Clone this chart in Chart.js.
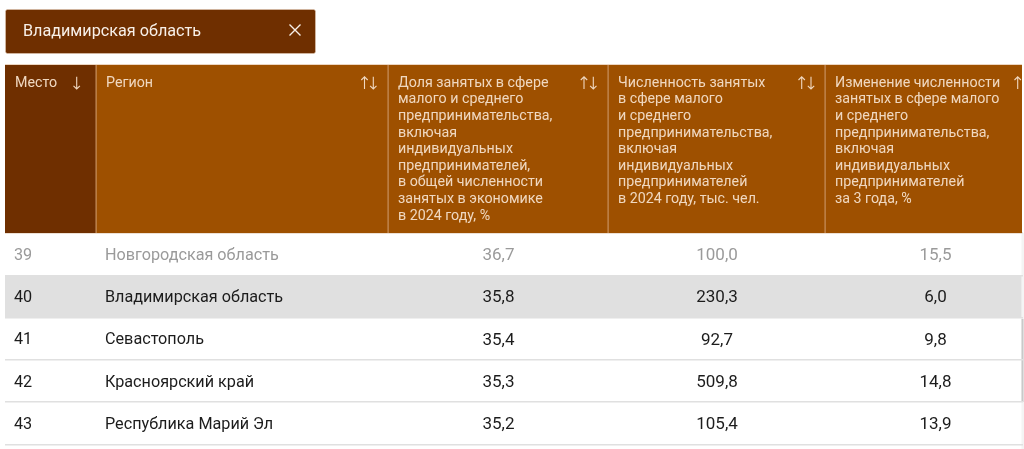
<!DOCTYPE html>
<html lang="ru">
<head>
<meta charset="utf-8">
<title>Доля занятых в сфере МСП</title>
<script src="https://cdn.jsdelivr.net/npm/chart.js@4/dist/chart.umd.js"></script>
<style>
    html, body { margin: 0; padding: 0; background: #fff; overflow: hidden; }
    canvas { display: block; }
</style>
</head>
<body>
<canvas id="myChart" width="1024" height="449"></canvas>
<script>
// Данные таблицы
const selectedRegion = 'Владимирская область';
const places = ['39', '40', '41', '42', '43'];
const regions = ['Новгородская область', 'Владимирская область', 'Севастополь', 'Красноярский край', 'Республика Марий Эл'];
const shareValues = [36.7, 35.8, 35.4, 35.3, 35.2];
const employedValues = [100.0, 230.3, 92.7, 509.8, 105.4];
const changeValues = [15.5, 6.0, 9.8, 14.8, 13.9];

const headPlace = ['Место'];
const headRegion = ['Регион'];
const headShare = ['Доля занятых в сфере', 'малого и среднего', 'предпринимательства,', 'включая', 'индивидуальных', 'предпринимателей,', 'в общей численности', 'занятых в экономике', 'в 2024 году, %'];
const headEmployed = ['Численность занятых', 'в сфере малого', 'и среднего', 'предпринимательства,', 'включая', 'индивидуальных', 'предпринимателей', 'в 2024 году, тыс. чел.'];
const headChange = ['Изменение численности', 'занятых в сфере малого', 'и среднего', 'предпринимательства,', 'включая', 'индивидуальных', 'предпринимателей', 'за 3 года, %'];

// Разметка
const edges = [5, 96, 388, 608, 825, 1045];
const upArrows = [null, 364.5, 584, 801.7, 1017.7];
const downArrows = [76.7, 373.3, 593.3, 811, 1027];
const tableRight = 1021.5;
const headRight = 1022;
const headTop = 65, headBottom = 233;
const dark = '#6f2f00', brown = '#9e5000';
const headText = '#f0d8c0', divider = '#c8905f';
const font = 'Roboto, sans-serif';

function fmt(v) {
    return v.toFixed(1).replace('.', ',');
}

function arrow(c, x, up) {
    const top = 76.8, bottom = 89;
    c.beginPath();
    c.moveTo(x, top);
    c.lineTo(x, bottom);
    if (up) {
        c.moveTo(x - 3.2, top + 3.2); c.lineTo(x, top); c.lineTo(x + 3.2, top + 3.2);
    } else {
        c.moveTo(x - 3.2, bottom - 3.2); c.lineTo(x, bottom); c.lineTo(x + 3.2, bottom - 3.2);
    }
    c.stroke();
}

// Шапка таблицы и плашка выбранного региона
const headerPlugin = {
    id: 'headerPlugin',
    afterDraw(chart) {
        const c = chart.ctx;
        const x = chart.scales.x;
        c.save();

        // плашка
        c.fillStyle = dark;
        c.strokeStyle = '#e3c9b4';
        c.lineWidth = 0.6;
        c.beginPath();
        c.roundRect(5.5, 9.5, 310, 44, 2);
        c.fill();
        c.stroke();
        c.fillStyle = '#f8f0e8';
        c.font = '16.2px ' + font;
        c.textBaseline = 'middle';
        c.textAlign = 'left';
        c.fillText(selectedRegion, 23, 32);
        c.strokeStyle = '#f8f0e8';
        c.lineWidth = 1.4;
        c.beginPath();
        c.moveTo(289.5, 24.5); c.lineTo(300.5, 35.5);
        c.moveTo(300.5, 24.5); c.lineTo(289.5, 35.5);
        c.stroke();

        // шапка
        c.beginPath();
        c.rect(5, 60, headRight - 5, 180);
        c.clip();
        const heads = [headPlace, headRegion, headShare, headEmployed, headChange];
        heads.forEach(function (lines, i) {
            const l = x.getPixelForValue(edges[i]);
            const r = x.getPixelForValue(edges[i + 1]);
            c.fillStyle = i === 0 ? dark : brown;
            c.fillRect(l, headTop, r - l, headBottom - headTop);
            c.fillStyle = '#ecd6c2';
            c.fillRect(l, headTop - 1, r - l, 1);
            c.fillRect(l, headBottom, r - l, 0.6);
            c.fillStyle = headText;
            c.font = '14.25px ' + font;
            lines.forEach(function (line, n) {
                c.fillText(line, l + 10, 83.2 + n * 16.6);
            });
            if (i > 0) {
                c.fillStyle = divider;
                c.fillRect(l - 0.5, headTop, 1.2, headBottom - headTop);
            }
            c.strokeStyle = headText;
            c.lineWidth = 1.1;
            if (upArrows[i] !== null) {
                arrow(c, upArrows[i], true);
            }
            arrow(c, downArrows[i], false);
        });
        c.restore();
    }
};

// Текст строк таблицы
const cellsPlugin = {
    id: 'cellsPlugin',
    afterDatasetsDraw(chart) {
        const c = chart.ctx;
        const x = chart.scales.x;
        const y = chart.scales.y;
        c.save();
        c.textBaseline = 'middle';
        places.forEach(function (place, i) {
            const py = y.getPixelForValue(i) + 1.5;
            c.fillStyle = i === 0 ? '#9a9a9a' : '#1c1c1c';
            c.font = '16.2px ' + font;
            c.textAlign = 'left';
            c.fillText(place, 14, py);
            c.fillText(regions[i], 105, py);
            c.font = '17px ' + font;
            c.textAlign = 'center';
            [shareValues, employedValues, changeValues].forEach(function (values, k) {
                const mid = (x.getPixelForValue(edges[k + 2]) + x.getPixelForValue(edges[k + 3])) / 2;
                c.fillText(fmt(values[i]), mid + 0.5, py);
            });
        });
        // полоса прокрутки
        c.fillStyle = '#f4f4f4';
        c.fillRect(1021.5, 233, 2.5, 216);
        c.fillStyle = '#c9c9c9';
        c.fillRect(1021.5, 319, 2, 83);
        c.restore();
    }
};

new Chart(document.getElementById('myChart').getContext('2d'), {
    type: 'bar',
    data: {
        labels: places,
        datasets: [{
            // фон строк, выбранный регион выделен серым
            data: regions.map(function (r) { return [edges[0], tableRight]; }),
            backgroundColor: regions.map(function (r) { return r === selectedRegion ? '#e0e0e0' : '#ffffff'; }),
            borderWidth: 0,
            barPercentage: 1,
            categoryPercentage: 1
        }]
    },
    options: {
        indexAxis: 'y',
        responsive: false,
        animation: false,
        devicePixelRatio: 1,
        layout: { padding: { left: 5, right: 1, top: 233, bottom: 4.5 } },
        plugins: { legend: { display: false }, tooltip: { enabled: false } },
        scales: {
            x: { type: 'linear', min: 5, max: 1023, display: false },
            y: {
                ticks: { display: false },
                border: { display: false },
                grid: { offset: true, color: '#e0e0e0', lineWidth: 1.5, drawTicks: false, z: 1 }
            }
        }
    },
    plugins: [cellsPlugin, headerPlugin]
});
</script>
</body>
</html>
